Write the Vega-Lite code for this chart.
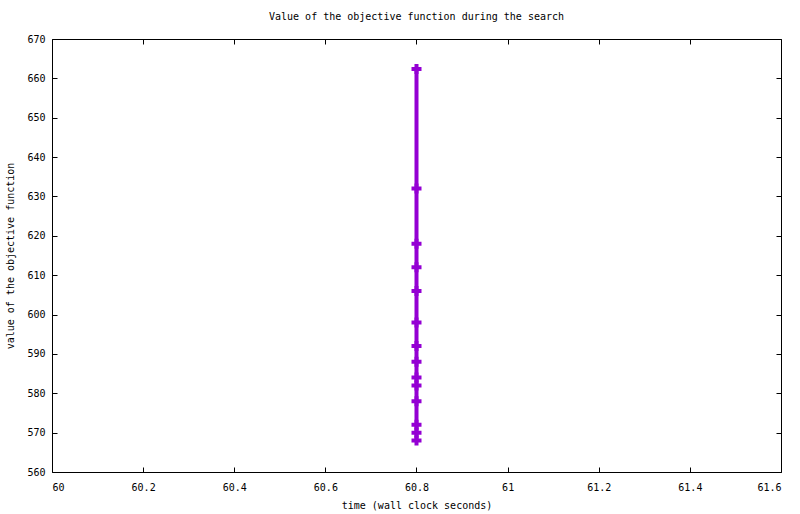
{
  "$schema": "https://vega.github.io/schema/vega-lite/v6.json",
  "autosize": {"type": "none"},
  "width": 729,
  "height": 433,
  "padding": {"left": 52, "top": 39, "right": 19, "bottom": 42},
  "background": "white",
  "config": {
    "font": "DejaVu Sans Mono",
    "view": {"stroke": "black", "strokeWidth": 1},
    "axis": {
      "grid": false,
      "domain": false,
      "tickColor": "black",
      "tickSize": -5,
      "labelFont": "DejaVu Sans Mono",
      "labelFontSize": 10,
      "labelColor": "black",
      "titleFont": "DejaVu Sans Mono",
      "titleFontSize": 10,
      "titleFontWeight": "normal",
      "titleColor": "black"
    }
  },
  "title": {
    "text": "Value of the objective function during the search",
    "font": "DejaVu Sans Mono",
    "fontSize": 10,
    "fontWeight": "normal",
    "offset": 12
  },
  "data": {
    "values": [
      {"time": 60.8, "value": 662.4},
      {"time": 60.8, "value": 632},
      {"time": 60.8, "value": 618},
      {"time": 60.8, "value": 612},
      {"time": 60.8, "value": 606},
      {"time": 60.8, "value": 598},
      {"time": 60.8, "value": 592},
      {"time": 60.8, "value": 588},
      {"time": 60.8, "value": 584},
      {"time": 60.8, "value": 582},
      {"time": 60.8, "value": 578},
      {"time": 60.8, "value": 572},
      {"time": 60.8, "value": 570},
      {"time": 60.8, "value": 568}
    ]
  },
  "layer": [
    {
      "mark": {"type": "line", "color": "#9400D3", "strokeWidth": 4},
      "encoding": {
        "x": {
          "field": "time", "type": "quantitative",
          "scale": {"domain": [60, 61.6], "nice": false, "zero": false},
          "axis": {
            "title": "time (wall clock seconds)",
            "values": [60, 60.2, 60.4, 60.6, 60.8, 61, 61.2, 61.4, 61.6],
            "format": ".1~f",
            "labelPadding": 15,
            "titlePadding": 8
          }
        },
        "y": {
          "field": "value", "type": "quantitative",
          "scale": {"domain": [560, 670], "nice": false, "zero": false},
          "axis": {
            "title": "value of the objective function",
            "values": [560, 570, 580, 590, 600, 610, 620, 630, 640, 650, 660, 670],
            "labelPadding": 12,
            "titlePadding": 11
          }
        }
      }
    },
    {
      "mark": {
        "type": "point",
        "shape": "M-1,0H1M0,-1V1",
        "filled": false,
        "color": "#9400D3",
        "strokeWidth": 4,
        "size": 100,
        "opacity": 1
      },
      "encoding": {
        "x": {
          "field": "time", "type": "quantitative",
          "axis": {
            "orient": "top", "title": null, "labels": false,
            "values": [60, 60.2, 60.4, 60.6, 60.8, 61, 61.2, 61.4, 61.6]
          }
        },
        "y": {
          "field": "value", "type": "quantitative",
          "axis": {
            "orient": "right", "title": null, "labels": false,
            "values": [560, 570, 580, 590, 600, 610, 620, 630, 640, 650, 660, 670]
          }
        }
      }
    }
  ],
  "resolve": {"axis": {"x": "independent", "y": "independent"}}
}
